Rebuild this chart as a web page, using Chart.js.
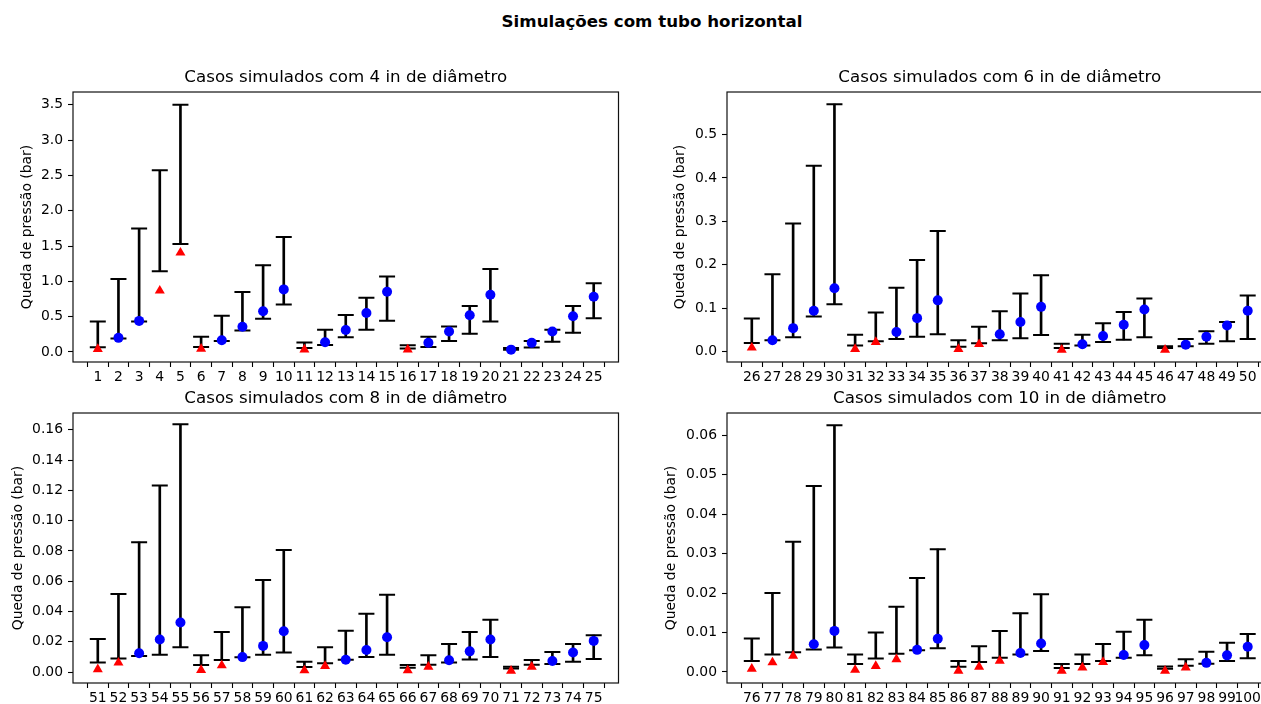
<!DOCTYPE html>
<html lang="pt-BR">
<head>
<meta charset="UTF-8">
<title>Simulações com tubo horizontal</title>
<script src="https://cdn.jsdelivr.net/npm/chart.js@4.4.0/dist/chart.umd.min.js"></script>
<style>
  * { margin: 0; padding: 0; box-sizing: border-box; }
  body {
    width: 1261px; height: 704px; overflow: hidden;
    background: #fff; position: relative;
    font-family: 'DejaVu Sans', sans-serif;
  }
  .suptitle {
    position: absolute; left: 452px; top: 12px; width: 400px;
    text-align: center; font-weight: bold; font-size: 16.67px; line-height: 20px; color: #000;
  }
  canvas { position: absolute; }
  #c1 { left: 0; top: 60px; }
  #c2 { left: 650px; top: 60px; }
  #c3 { left: 0; top: 381px; }
  #c4 { left: 650px; top: 381px; }
</style>
</head>
<body>
  <div class="suptitle">Simulações com tubo horizontal</div>
  <canvas id="c1" width="640" height="332"></canvas>
  <canvas id="c2" width="640" height="332"></canvas>
  <canvas id="c3" width="640" height="332"></canvas>
  <canvas id="c4" width="640" height="332"></canvas>

<script>
// 4 in
const casos4in = [1, 2, 3, 4, 5, 6, 7, 8, 9, 10, 11, 12, 13, 14, 15, 16, 17, 18, 19, 20, 21, 22, 23, 24, 25];
const max4in = [0.433, 1.033, 1.748, 2.571, 3.5, 0.214, 0.514, 0.848, 1.229, 1.629, 0.133, 0.314, 0.524, 0.767, 1.067, 0.095, 0.214, 0.362, 0.652, 1.176, 0.057, 0.157, 0.314, 0.652, 0.971];
const min4in = [0.067, 0.19, 0.433, 1.143, 1.529, 0.071, 0.157, 0.305, 0.471, 0.671, 0.057, 0.1, 0.21, 0.314, 0.443, 0.048, 0.071, 0.157, 0.257, 0.433, 0.033, 0.062, 0.143, 0.271, 0.476];
const sim4in = [0.04, 0.2, 0.44, 0.867, 1.405, 0.045, 0.167, 0.357, 0.576, 0.886, 0.033, 0.138, 0.31, 0.552, 0.852, 0.035, 0.129, 0.29, 0.519, 0.81, 0.033, 0.129, 0.29, 0.505, 0.781];
const ticks4in = [0.0, 0.5, 1.0, 1.5, 2.0, 2.5, 3.0, 3.5];

// 6 in
const casos6in = [26, 27, 28, 29, 30, 31, 32, 33, 34, 35, 36, 37, 38, 39, 40, 41, 42, 43, 44, 45, 46, 47, 48, 49, 50];
const max6in = [0.076, 0.178, 0.295, 0.428, 0.570, 0.039, 0.090, 0.147, 0.211, 0.278, 0.026, 0.057, 0.093, 0.134, 0.176, 0.018, 0.039, 0.065, 0.091, 0.122, 0.012, 0.029, 0.047, 0.068, 0.129];
const min6in = [0.020, 0.026, 0.033, 0.081, 0.109, 0.014, 0.024, 0.029, 0.034, 0.040, 0.011, 0.019, 0.026, 0.031, 0.038, 0.008, 0.014, 0.022, 0.027, 0.033, 0.008, 0.012, 0.018, 0.024, 0.029];
const sim6in = [0.009, 0.026, 0.054, 0.094, 0.146, 0.006, 0.022, 0.045, 0.077, 0.118, 0.006, 0.017, 0.040, 0.068, 0.103, 0.004, 0.017, 0.036, 0.062, 0.097, 0.004, 0.016, 0.034, 0.060, 0.094];
const ticks6in = [0.0, 0.1, 0.2, 0.3, 0.4, 0.5];

// 8 in
const casos8in = [51, 52, 53, 54, 55, 56, 57, 58, 59, 60, 61, 62, 63, 64, 65, 66, 67, 68, 69, 70, 71, 72, 73, 74, 75];
const max8in = [0.0219, 0.0516, 0.0858, 0.1232, 0.1636, 0.0111, 0.0264, 0.0428, 0.0609, 0.0807, 0.0069, 0.0164, 0.0273, 0.0386, 0.0510, 0.0047, 0.0111, 0.0186, 0.0264, 0.0346, 0.0035, 0.0080, 0.0133, 0.0186, 0.0244];
const min8in = [0.0064, 0.0089, 0.0106, 0.0115, 0.0164, 0.0047, 0.0080, 0.0098, 0.0115, 0.0129, 0.0033, 0.0058, 0.0082, 0.0100, 0.0115, 0.0029, 0.0049, 0.0064, 0.0084, 0.0100, 0.0024, 0.0049, 0.0053, 0.0069, 0.0086];
const sim8in = [0.0018, 0.0062, 0.0124, 0.0215, 0.0328, 0.0013, 0.0044, 0.0099, 0.0173, 0.0270, 0.0011, 0.0040, 0.0082, 0.0146, 0.0230, 0.0011, 0.0035, 0.0078, 0.0137, 0.0215, 0.0009, 0.0035, 0.0073, 0.0129, 0.0206];
const ticks8in = [0.00, 0.02, 0.04, 0.06, 0.08, 0.10, 0.12, 0.14, 0.16];

// 10 in
const casos10in = [76, 77, 78, 79, 80, 81, 82, 83, 84, 85, 86, 87, 88, 89, 90, 91, 92, 93, 94, 95, 96, 97, 98, 99, 100];
const max10in = [0.0085, 0.0200, 0.0330, 0.0471, 0.0625, 0.0044, 0.0100, 0.0165, 0.0238, 0.0311, 0.0028, 0.0065, 0.0104, 0.0149, 0.0197, 0.0020, 0.0044, 0.0071, 0.0102, 0.0132, 0.0014, 0.0032, 0.0051, 0.0074, 0.0096];
const min10in = [0.0028, 0.0044, 0.0050, 0.0057, 0.0062, 0.0020, 0.0034, 0.0046, 0.0055, 0.0060, 0.0013, 0.0025, 0.0036, 0.0044, 0.0053, 0.0010, 0.0020, 0.0028, 0.0036, 0.0042, 0.0008, 0.0016, 0.0021, 0.0028, 0.0035];
const sim10in = [0.0008, 0.0024, 0.0041, 0.0070, 0.0104, 0.0005, 0.0015, 0.0032, 0.0056, 0.0084, 0.0003, 0.0013, 0.0028, 0.0048, 0.0072, 0.0003, 0.0011, 0.0025, 0.0043, 0.0068, 0.0003, 0.0011, 0.0023, 0.0042, 0.0064];
const ticks10in = [0.00, 0.01, 0.02, 0.03, 0.04, 0.05, 0.06];

Chart.defaults.font.family = "'DejaVu Sans', sans-serif";
Chart.defaults.color = '#000';
Chart.defaults.animation = false;

// moldura dos eixos (4 lados, como no matplotlib)
const moldura = {
  id: 'moldura',
  afterDatasetsDraw(chart) {
    const { ctx, chartArea: a } = chart;
    ctx.save();
    ctx.strokeStyle = '#111';
    ctx.lineWidth = 1.2;
    ctx.strokeRect(a.left, a.top, a.right - a.left, a.bottom - a.top);
    ctx.restore();
  }
};

function painel(id, titulo, casos, minimos, maximos, simulados, yTicks, yLim, casas, yLargura, labelPad) {
  const fora = i => simulados[i] < minimos[i];
  const eixoGrid = { display: true, drawOnChartArea: false, drawTicks: true, tickLength: 5, tickColor: '#000', tickWidth: 1.1 };
  const tamanho = 13.9;

  new Chart(document.getElementById(id), {
    type: 'scatter',
    data: {
      datasets: [
        {
          type: 'scatter',
          order: 0,
          data: casos.map((c, i) => ({ x: c, y: simulados[i] })),
          pointStyle: ctx => fora(ctx.dataIndex) ? 'triangle' : 'circle',
          pointRadius: ctx => fora(ctx.dataIndex) ? 5.8 : 5,
          pointBackgroundColor: ctx => fora(ctx.dataIndex) ? '#ff0000' : '#0000ff',
          pointBorderWidth: 0
        },
        {
          type: 'scatter',
          order: 1,
          data: casos.map((c, i) => ({ x: c, y: minimos[i] }))
            .concat(casos.map((c, i) => ({ x: c, y: maximos[i] }))),
          pointStyle: 'line',
          pointRadius: 8,
          pointBorderColor: '#000',
          pointBorderWidth: 2
        },
        {
          type: 'bar',
          order: 2,
          data: casos.map((c, i) => ({ x: c, y: [minimos[i], maximos[i]] })),
          backgroundColor: '#000',
          borderWidth: 0,
          barThickness: 2
        }
      ]
    },
    options: {
      responsive: false,
      events: [],
      layout: { padding: { top: 8, right: 640 - yLargura - 545.5, bottom: 0, left: 0 } },
      plugins: {
        legend: { display: false },
        tooltip: { enabled: false },
        title: {
          display: true,
          text: titulo,
          fullSize: false,
          color: '#000',
          font: { size: 16.67, weight: 'normal' },
          padding: { top: 0, bottom: 4 }
        }
      },
      scales: {
        x: {
          type: 'linear',
          min: casos[0] - 1.2,
          max: casos[casos.length - 1] + 1.2,
          offset: false,
          afterBuildTicks: s => { s.ticks = casos.map(v => ({ value: v })); },
          afterFit: s => { s.height = 30; },
          ticks: {
            autoSkip: false, maxRotation: 0, minRotation: 0, padding: 2,
            color: '#000', font: { size: tamanho },
            callback: v => String(v)
          },
          grid: eixoGrid,
          border: { display: false }
        },
        y: {
          type: 'linear',
          min: yLim[0],
          max: yLim[1],
          afterBuildTicks: s => { s.ticks = yTicks.map(v => ({ value: v })); },
          afterFit: s => { s.width = yLargura; },
          ticks: {
            padding: 5, color: '#000', font: { size: tamanho },
            callback: v => Number(v).toFixed(casas)
          },
          grid: eixoGrid,
          border: { display: false },
          title: {
            display: true,
            text: 'Queda de pressão (bar)',
            color: '#000',
            font: { size: tamanho },
            padding: { top: labelPad, bottom: 0 }
          }
        }
      }
    },
    plugins: [moldura]
  });
}

painel('c1', 'Casos simulados com 4 in de diâmetro', casos4in, min4in, max4in, sim4in, ticks4in, [-0.142, 3.68], 1, 73, 19.5);
painel('c2', 'Casos simulados com 6 in de diâmetro', casos6in, min6in, max6in, sim6in, ticks6in, [-0.024, 0.598], 1, 77, 21.7);
painel('c3', 'Casos simulados com 8 in de diâmetro', casos8in, min8in, max8in, sim8in, ticks8in, [-0.0072, 0.1711], 2, 73, 9.7);
painel('c4', 'Casos simulados com 10 in de diâmetro', casos10in, min10in, max10in, sim10in, ticks10in, [-0.0028, 0.0656], 2, 77, 12.7);
</script>
</body>
</html>
